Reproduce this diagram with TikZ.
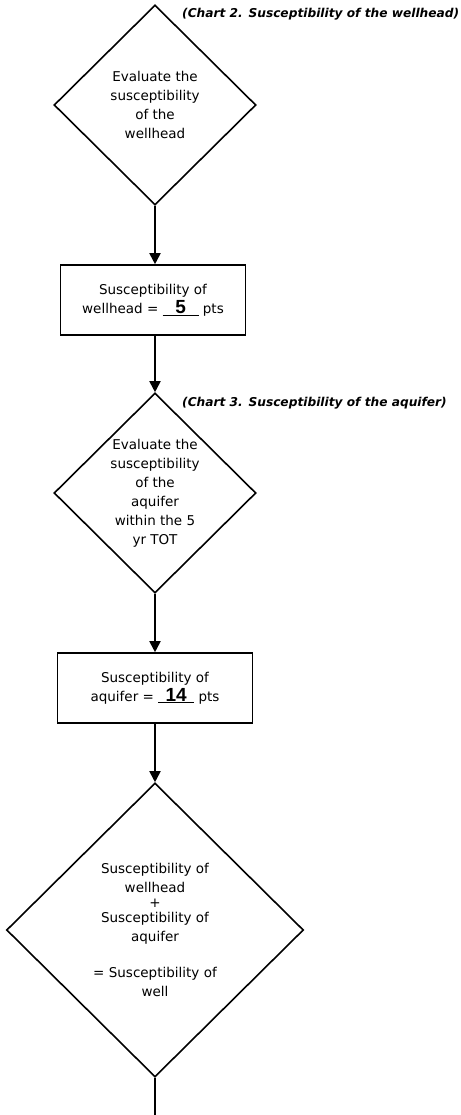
\documentclass[tikz,border=0pt]{standalone}
\usepackage{fontspec}
\setmainfont{DejaVu Sans}
\newfontfamily\numfont{Liberation Sans}
\usetikzlibrary{shapes.geometric,arrows.meta}

\tikzset{
  decision/.style={diamond, draw, line width=1.6pt, inner sep=0pt, align=center,
    font=\fontsize{13.5}{19}\selectfont},
  score/.style={rectangle, draw, line width=1.6pt, align=center, minimum height=70pt,
    font=\fontsize{13.5}{19}\selectfont},
  flow/.style={line width=1.8pt, -{Triangle[length=11pt,width=11pt]}},
  chartnote/.style={anchor=west, inner sep=0pt, font=\fontsize{12.2}{14}\selectfont\bfseries\itshape}
}
\newcommand{\ptsblank}[1]{\underline{\makebox[36pt]{\numfont\fontsize{19}{19}\selectfont\bfseries #1}}}

\begin{document}
\begin{tikzpicture}[x=1pt,y=-1pt]
  \useasboundingbox (0,0) rectangle (460,1115);

  \node[decision, minimum width=202pt, minimum height=200pt] (wellhead) at (155,105)
    {Evaluate the\\ susceptibility\\ of the\\ wellhead};
  \node[chartnote] (chartwell) at (182,14) {(Chart 2. Susceptibility of the wellhead)};

  \node[score, minimum width=185pt] (wellscore) at (153,300)
    {Susceptibility of\\ wellhead = \ptsblank{5} pts};

  \node[decision, minimum width=202pt, minimum height=200pt] (aquifer) at (155,493)
    {Evaluate the\\ susceptibility\\ of the\\ aquifer\\ within the 5\\ yr TOT};
  \node[chartnote] (chartaq) at (182,403) {(Chart 3. Susceptibility of the aquifer)};

  \node[score, minimum width=195pt] (aqscore) at (155,688)
    {Susceptibility of\\ aquifer = \ptsblank{14} pts};

  \node[decision, minimum width=297pt, minimum height=294pt] (total) at (155,930)
    {Susceptibility of\\ wellhead\\[-4pt] +\\[-4pt] Susceptibility of\\ aquifer\\[17pt]
     = Susceptibility of\\ well};
  \coordinate (out) at (total.south |- 0,1115);

  \draw[flow] (wellhead.south) -- (wellhead.south |- wellscore.north);
  \draw[flow] (wellhead.south |- wellscore.south) -- (aquifer.north);
  \draw[flow] (aquifer.south) -- (aqscore.north);
  \draw[flow] (aqscore.south) -- (total.north);
  \draw[line width=1.8pt] (total.south) -- (out);
\end{tikzpicture}
\end{document}
